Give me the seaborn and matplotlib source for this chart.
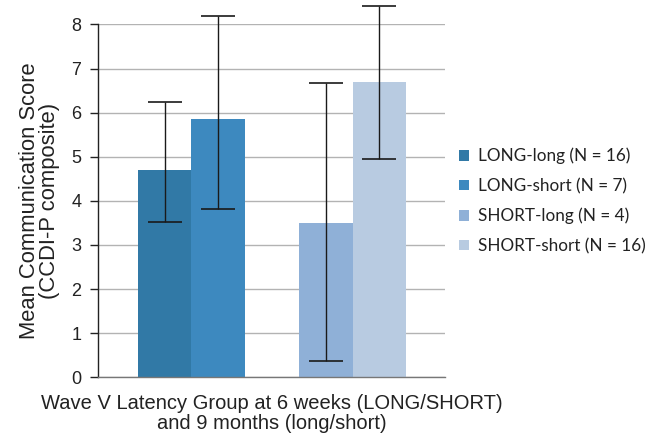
import matplotlib
matplotlib.use("Agg")
import matplotlib.pyplot as plt
import seaborn as sns
import pandas as pd
import numpy as np

# data
groups = ["LONG-long (N = 16)", "LONG-short (N = 7)", "SHORT-long (N = 4)", "SHORT-short (N = 16)"]
means = [4.70, 5.86, 3.50, 6.70]
err_low = [3.52, 3.82, 0.37, 4.94]
err_high = [6.23, 8.18, 6.68, 8.41]
colors = ["#3179A6", "#3D89BF", "#8FB0D7", "#B8CBE1"]
y_ticks = [0, 1, 2, 3, 4, 5, 6, 7, 8]

# blank slot keeps the gap between the LONG and SHORT pairs
order = groups[:2] + [" "] + groups[2:]

df = pd.DataFrame({"group": groups, "score": means})

sns.set_style("white")
plt.rcParams["font.family"] = ["Liberation Sans", "DejaVu Sans"]

fig = plt.figure(figsize=(6.59, 4.40), dpi=100)
ax = fig.add_axes([0.1487, 0.1425, 0.5265, 0.802])

sns.barplot(data=df, x="group", y="score", hue="group", order=order,
            hue_order=groups, palette=colors, width=1.0, dodge=False,
            errorbar=None, legend=True, ax=ax, saturation=1, linewidth=0)

# error bars at the bar centers
bars = [p for p in ax.patches if p.get_height() > 0]
bars = sorted(bars, key=lambda p: p.get_x())
xs = [p.get_x() + p.get_width() / 2 for p in bars]
lo = np.array(means) - np.array(err_low)
hi = np.array(err_high) - np.array(means)
ax.errorbar(xs, means, yerr=[lo, hi], fmt="none", ecolor="#1a1a1a",
            elinewidth=1.0, capsize=12.5, capthick=1.2, clip_on=False, zorder=5)

ax.set_xlim(-1.24, 5.22)
ax.set_ylim(0, 8)
ax.set_yticks(y_ticks)
ax.set_yticklabels([str(t) for t in y_ticks], fontsize=13, color="#222222")
ax.set_xticks([])
ax.yaxis.grid(True, color="#b3b3b3", linewidth=1.0)
ax.set_axisbelow(True)
ax.tick_params(axis="y", direction="out", length=6, width=1, color="#222222", pad=6, left=True)

for s in ["top", "right"]:
    ax.spines[s].set_visible(False)
ax.spines["left"].set_color("#222222")
ax.spines["left"].set_linewidth(1.0)
ax.spines["bottom"].set_color("#777777")
ax.spines["bottom"].set_linewidth(1.0)

ax.set_ylabel("Mean Communication Score\n(CCDI-P composite)", fontsize=15.8,
              color="#222222", labelpad=8, linespacing=0.95)
ax.set_xlabel("Wave V Latency Group at 6 weeks (LONG/SHORT)\nand 9 months (long/short)",
              fontsize=14.5, color="#222222", labelpad=12, linespacing=1.1)

handles, labels = ax.get_legend_handles_labels()
ax.legend(handles, labels, loc="center left", bbox_to_anchor=(0.995, 0.5),
          frameon=False, prop={"family": "Lato", "size": 12.3},
          handlelength=0.6, handleheight=0.6, handletextpad=0.55,
          labelspacing=0.8, labelcolor="#222222")

fig.savefig("out.png", dpi=100)
